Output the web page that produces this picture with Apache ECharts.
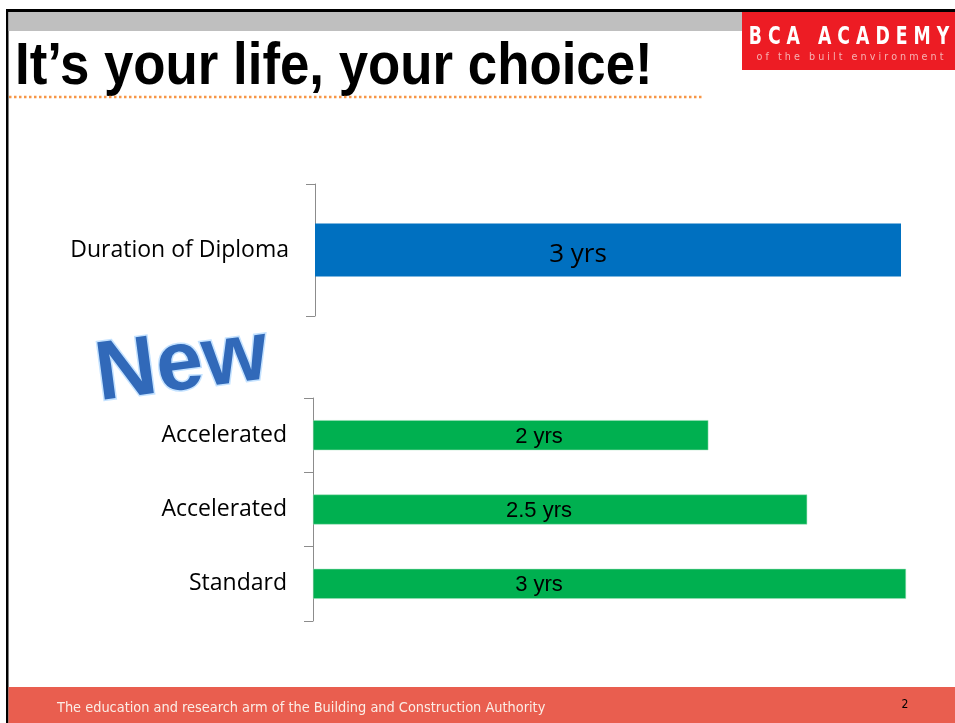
<!DOCTYPE html>
<html>
<head>
<meta charset="utf-8">
<title>It’s your life, your choice!</title>
<script src="https://cdn.jsdelivr.net/npm/echarts@6/dist/echarts.min.js"></script>
<style>
html, body { margin: 0; padding: 0; background: #fff; }
#chart { width: 955px; height: 723px; }
</style>
</head>
<body>
<div id="chart"></div>
<script>
var diplomaCategories = ['Duration of Diploma'];
var diplomaYears = [3];
var pathwayCategories = ['Accelerated', 'Accelerated', 'Standard'];
var pathwayYears = [2, 2.5, 3];
var maxYears = 3;

var slideTitle = 'It’s your life, your choice!';
var footerText = 'The education and research arm of the Building and Construction Authority';
var pageNumber = '2';

var chart = echarts.init(document.getElementById('chart'));

const yrsLabel = function (p) {
    return p.value + ' yrs';
};

const catAxis = function (gridIndex, data) {
    return {
        type: 'category',
        gridIndex: gridIndex,
        data: data,
        inverse: true,
        axisLine: { lineStyle: { color: '#8c8c8c', width: 1 } },
        axisTick: { show: true, length: 9, lineStyle: { color: '#8c8c8c' } },
        axisLabel: { color: '#000', fontFamily: 'Open Sans', fontSize: 23, margin: 26 }
    };
};

const valAxis = function (gridIndex) {
    return { type: 'value', gridIndex: gridIndex, min: 0, max: maxYears, show: false };
};

const txt = function (o) {
    var s = o.style;
    s.textAlign = s.align;
    s.textVerticalAlign = s.verticalAlign;
    o.type = 'text';
    o.silent = true;
    return o;
};

var graphics = [
    { type: 'rect', shape: { x: 6, y: 9, width: 949, height: 3 }, style: { fill: '#000' } },
    { type: 'rect', shape: { x: 6, y: 9, width: 2.5, height: 714 }, style: { fill: '#000' } },
    { type: 'rect', shape: { x: 8.5, y: 12, width: 734, height: 19 }, style: { fill: '#BFBFBF' } },
    { type: 'rect', shape: { x: 742, y: 12, width: 213, height: 58 }, style: { fill: '#ED1C24' } },
    txt({ x: 849, y: 38, scaleX: 0.8, style: { text: 'B C A   A C A D E M Y', fill: '#fff', fontFamily: 'DejaVu Sans Condensed', fontWeight: 'bold', fontSize: 24, align: 'center', verticalAlign: 'middle' } }),
    txt({ x: 850, y: 57, style: { text: 'o f   t h e   b u i l t   e n v i r o n m e n t', fill: '#F6B3B3', fontFamily: 'DejaVu Sans', fontSize: 9.6, align: 'center', verticalAlign: 'middle' } }),
    txt({ x: 15, y: 67, scaleX: 0.88, style: { text: slideTitle, fill: '#000', fontFamily: 'Liberation Sans', fontWeight: 'bold', fontSize: 60, align: 'left', verticalAlign: 'middle' } }),
    { type: 'line', shape: { x1: 9, y1: 97, x2: 703, y2: 97 }, style: { stroke: '#F79646', lineWidth: 2.5, lineDash: [2.5, 2.5] } },
    txt({ x: 182, y: 366, rotation: 0.13, style: { text: 'New', fill: '#3169B9', stroke: '#C4E2FF', lineWidth: 3, fontFamily: 'Liberation Sans', fontWeight: 'bold', fontSize: 84, align: 'center', verticalAlign: 'middle', shadowBlur: 6, shadowColor: '#8FC3F5' } }),
    { type: 'rect', shape: { x: 8.5, y: 687, width: 947, height: 36 }, style: { fill: '#E95E4F' } },
    txt({ x: 57, y: 708, style: { text: footerText, fill: '#FBEDE6', fontFamily: 'DejaVu Sans Condensed', fontSize: 14.4, align: 'left', verticalAlign: 'middle' } }),
    txt({ x: 905, y: 705, style: { text: pageNumber, fill: '#000', fontFamily: 'DejaVu Sans Condensed', fontSize: 12, align: 'center', verticalAlign: 'middle' } })
];

var option = {
    backgroundColor: '#fff',
    animation: false,
    grid: [
        { left: 315, right: 54, top: 184, height: 132 },
        { left: 313, right: 49, top: 398, height: 223 }
    ],
    xAxis: [valAxis(0), valAxis(1)],
    yAxis: [catAxis(0, diplomaCategories), catAxis(1, pathwayCategories)],
    series: [
        {
            type: 'bar',
            xAxisIndex: 0,
            yAxisIndex: 0,
            data: diplomaYears,
            barWidth: 53,
            itemStyle: { color: '#0070C0' },
            label: {
                show: true, position: [263, '58%'], align: 'center', verticalAlign: 'middle',
                formatter: yrsLabel, color: '#000', fontFamily: 'Open Sans', fontSize: 26
            },
            silent: true
        },
        {
            type: 'bar',
            xAxisIndex: 1,
            yAxisIndex: 1,
            data: pathwayYears,
            barWidth: 30,
            itemStyle: { color: '#00B050', borderColor: '#9FE0B8', borderWidth: 0.5 },
            label: {
                show: true, position: [226, '55%'], align: 'center', verticalAlign: 'middle',
                formatter: yrsLabel, color: '#000', fontFamily: 'Liberation Sans', fontSize: 22
            },
            silent: true
        }
    ],
    graphic: graphics
};

chart.setOption(option);
</script>
</body>
</html>
